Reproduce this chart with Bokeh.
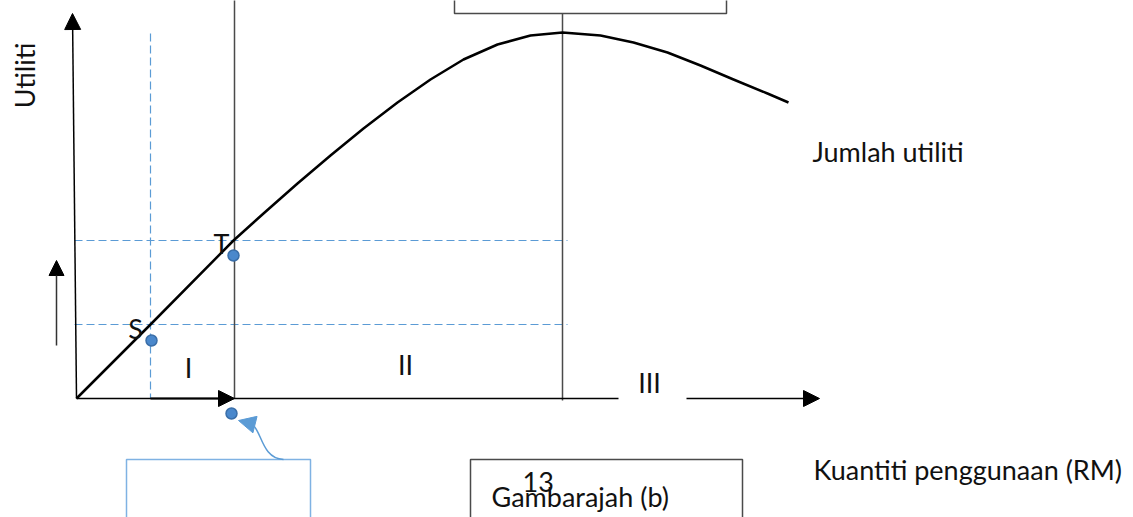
import numpy as np
from bokeh.plotting import figure
from bokeh.models import Range1d, Arrow, NormalHead, ColumnDataSource
from bokeh.core.properties import value
from bokeh.embed import file_html
from bokeh.resources import INLINE

# ---- data (diagram coordinates; y grows downward) ----
curve_x = [76, 150, 233, 263, 297, 330, 363, 397, 430, 463, 497, 530, 562,
           600, 633, 667, 700, 733, 767, 788]
curve_y = [398, 324, 240, 213, 183, 155, 128, 102, 79, 59, 44, 35, 32,
           35, 42, 52, 65, 79, 93, 102]

point_x = [151, 233, 231]
point_y = [340, 255, 413]

dash_h_y = [240, 324]
dash_h_x0 = [74, 74]
dash_h_x1 = [567, 567]
dash_v_x = [150]
dash_v_y0 = [33]
dash_v_y1 = [398]

vline_x = [234, 562]
vline_y0 = [-5, 13]
vline_y1 = [398, 400]

labels = ["Utiliti", "Jumlah utiliti", "Kuantiti penggunaan (RM)", "Gambarajah (b)", "13"]
label_x = [24, 812, 813, 491, 522]
label_y = [75, 151, 469, 496, 481]

point_labels = ["S", "T", "I", "II", "III"]
point_label_x = [135, 221, 188, 405, 649]
point_label_y = [328, 243, 367, 364, 382]

FONT = "Lato"
FS = "27px"

p = figure(width=1133, height=517, output_backend="svg", toolbar_location=None,
           x_range=Range1d(0, 1133), y_range=Range1d(517, 0),
           x_axis_type=None, y_axis_type=None, min_border=0)
p.outline_line_color = None
p.grid.visible = False
p.background_fill_color = "white"

BLUE = "#5b9bd5"
BOXBLUE = "#7fb2e3"
GREY = "#4a4a4a"

# boxes
p.quad(left=[454], right=[726], top=[-10], bottom=[13], fill_color=None,
       line_color=GREY, line_width=1.5)
p.quad(left=[470], right=[742], top=[459], bottom=[540], fill_color=None,
       line_color=GREY, line_width=1.5)
p.quad(left=[126], right=[310], top=[459], bottom=[540], fill_color=None,
       line_color=BOXBLUE, line_width=1.5)

# dashed guides
p.segment(x0=dash_h_x0, x1=dash_h_x1, y0=dash_h_y, y1=dash_h_y,
          line_color=BLUE, line_width=1.2, line_dash="8 4")
p.segment(x0=dash_v_x, x1=dash_v_x, y0=dash_v_y0, y1=dash_v_y1,
          line_color=BLUE, line_width=1.2, line_dash="8 4")

# vertical boundary lines
p.segment(x0=vline_x, x1=vline_x, y0=vline_y0, y1=vline_y1,
          line_color=GREY, line_width=1.5)

# axes
p.segment(x0=[76], y0=[398], x1=[618], y1=[398], line_color="black", line_width=1.5)
p.add_layout(Arrow(x_start=76, y_start=398, x_end=72, y_end=13, line_width=1.5,
                   end=NormalHead(size=16, fill_color="black", line_color="black")))
p.add_layout(Arrow(x_start=686, y_start=398, x_end=819, y_end=398, line_width=1.5,
                   end=NormalHead(size=16, fill_color="black", line_color="black")))
p.add_layout(Arrow(x_start=150, y_start=398, x_end=234, y_end=398, line_width=2,
                   end=NormalHead(size=16, fill_color="black", line_color="black")))
p.add_layout(Arrow(x_start=56, y_start=345, x_end=56, y_end=260, line_width=1.5,
                   line_color="#333333",
                   end=NormalHead(size=15, fill_color="black", line_color="black")))

# total utility curve
p.line(curve_x, curve_y, line_color="black", line_width=2.5, line_join="round")

# blue callout arrow
p.bezier(x0=[283], y0=[459], x1=[253], y1=[425], cx0=[262], cy0=[458], cx1=[261], cy1=[432],
         line_color=BLUE, line_width=1.5)
p.add_layout(Arrow(x_start=254, y_start=424, x_end=238, y_end=420, line_width=1,
                   line_color=BLUE,
                   end=NormalHead(size=17, fill_color=BLUE, line_color=BLUE)))

# points
p.scatter(point_x, point_y, size=11, fill_color="#4a88cc", line_color="#3a6ea8", line_width=1.5)

# texts
src = ColumnDataSource(dict(x=label_x[1:], y=label_y[1:], t=labels[1:]))
p.text(x="x", y="y", text="t", source=src, text_font=value(FONT), text_font_size=FS,
       text_color="#111111", text_baseline="alphabetic", text_align="left")
p.text(x=[label_x[0]], y=[label_y[0]], text=[labels[0]], angle=np.pi / 2,
       text_font=value(FONT), text_font_size=FS, text_color="#111111",
       text_baseline="middle", text_align="center")
p.text(x=point_label_x, y=point_label_y, text=point_labels, text_font=value(FONT),
       text_font_size=FS, text_color="#111111", text_baseline="middle", text_align="center")

open("out.html", "w").write(file_html(p, INLINE))
